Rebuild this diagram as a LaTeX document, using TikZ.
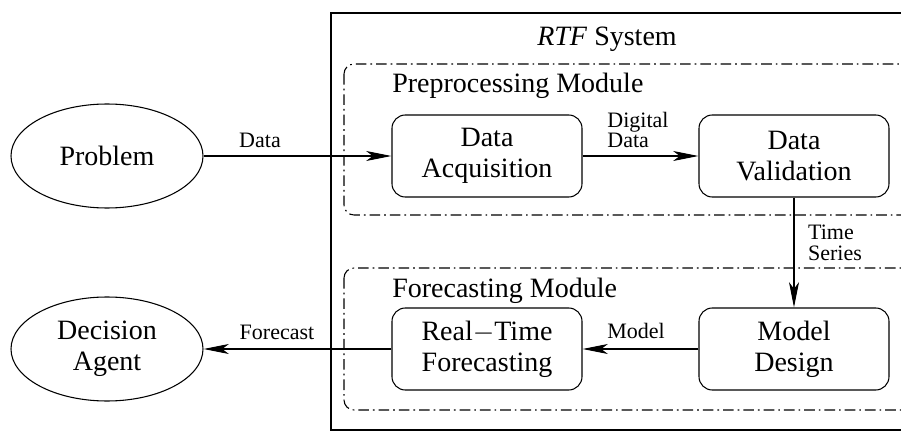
\documentclass[tikz,border=0pt]{standalone}
\usepackage{fontspec}
\setmainfont{Liberation Serif}
\usetikzlibrary{shapes.geometric,arrows.meta}

\tikzset{
    bigtxt/.style={font=\fontsize{21}{23.5}\selectfont},
    smalltxt/.style={font=\fontsize{16.5}{15.5}\selectfont, inner sep=0pt, align=left},
    actor/.style={bigtxt, draw, ellipse, line width=0.8pt, inner sep=0pt,
        minimum width=144pt, minimum height=78pt, align=center},
    stage/.style={bigtxt, draw, rounded corners=10pt, line width=0.8pt,
        minimum width=142.5pt, minimum height=61.5pt, align=center},
    module/.style={line width=0.8pt, rounded corners=7.5pt,
        dash pattern=on 8pt off 3pt on 1.2pt off 3pt},
    flow/.style={line width=0.8pt, -{Stealth[length=19pt, width=7.5pt, inset=5pt]}}
}

\begin{document}
\begin{tikzpicture}[x=0.75pt,y=-0.75pt]
    \clip (0,0) rectangle (901,435);
    % system box
    \draw[line width=0.8pt] (331,13) rectangle (920,430);
    \node[bigtxt, anchor=base] (systitle) at (607,46) {\textit{RTF} System};
    % modules
    \draw[module] (344,64) rectangle (915,215);
    \node[bigtxt, anchor=base west, inner sep=0pt] (premod) at (392,93) {Preprocessing Module};
    \draw[module] (344,268) rectangle (915,410);
    \node[bigtxt, anchor=base west, inner sep=0pt] (formod) at (392,297) {Forecasting Module};

    \node[actor] (problem) at (107,156) {Problem};
    \node[actor] (agent) at (107,349) {Decision\\Agent};

    \node[stage] (acq) at (487,156) {Data\\Acquisition};
    \node[stage] (val) at (794,156) {Data\\Validation};
    \node[stage] (design) at (794,349) {Model\\Design};
    \node[stage] (rtf) at (487,349) {Real$-$Time\\Forecasting};

    % connectors
    \draw[flow] (problem.east) -- (acq.west);
    \draw[flow] (acq.east) -- (val.west);
    \draw[flow] (val.south) -- (design.north);
    \draw[flow] (design.west) -- (rtf.east);
    \draw[flow] (rtf.west) -- (agent.east);

    \node[smalltxt] (lbldata) at (260,140) {Data};
    \node[smalltxt] (lbldigital) at (638,130) {Digital\\Data};
    \node[smalltxt] (lblseries) at (835,243) {Time\\Series};
    \node[smalltxt] (lblmodel) at (636,331) {Model};
    \node[smalltxt] (lblforecast) at (277,332) {Forecast};
\end{tikzpicture}
\end{document}
